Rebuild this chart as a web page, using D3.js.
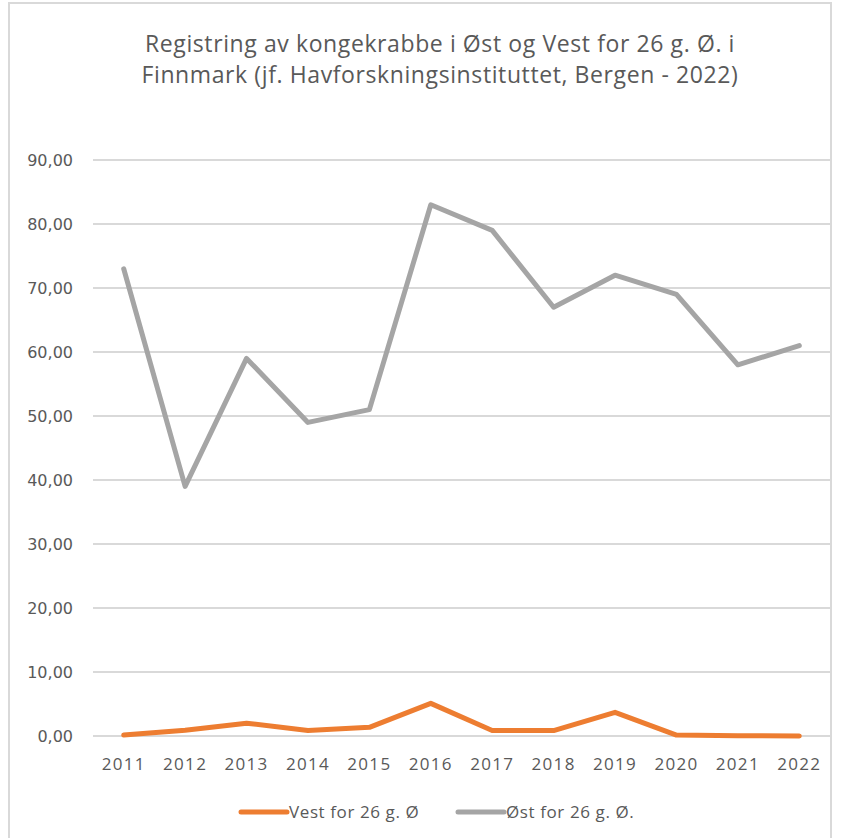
<!DOCTYPE html>
<html>
<head>
<meta charset="utf-8">
<script src="https://cdn.jsdelivr.net/npm/d3@7"></script>
<style>
  body { margin: 0; background: #fff; }
  text { font-family: "Open Sans", sans-serif; fill: #595959; }
</style>
</head>
<body>
<script>
// chart data
var years = ['2011','2012','2013','2014','2015','2016','2017','2018','2019','2020','2021','2022'];
var vest = [0.15, 0.9, 2.0, 0.85, 1.35, 5.1, 0.85, 0.85, 3.7, 0.15, 0.05, 0.0];
var ost = [73, 39, 59, 49, 51, 83, 79, 67, 72, 69, 58, 61];
var yTicks = [0, 10, 20, 30, 40, 50, 60, 70, 80, 90];
var seriesNames = ['Vest for 26 g. Ø', 'Øst for 26 g. Ø.'];
var titleLines = ['Registring av kongekrabbe  i Øst og Vest for 26 g. Ø. i',
                  'Finnmark (jf. Havforskningsinstituttet, Bergen - 2022)'];

var W = 842, H = 838;
var svg = d3.select('body').append('svg').attr('width', W).attr('height', H);

// chart frame
svg.append('rect')
  .attr('x', 9).attr('y', 3)
  .attr('width', 822).attr('height', 850)
  .attr('fill', '#fff').attr('stroke', '#d9d9d9').attr('stroke-width', 2);

var mLeft = 93, mRight = 830, mTop = 160, mBottom = 736;

var x = d3.scaleBand().domain(years).range([mLeft, mRight]);
var y = d3.scaleLinear().domain([0, 90]).range([mBottom, mTop]);

// title
svg.append('g').selectAll('text').data(titleLines).enter()
  .append('text')
  .attr('x', 440)
  .attr('y', function(d, i) { return 44 + i * 31; })
  .attr('dy', '0.35em')
  .attr('text-anchor', 'middle')
  .style('font-size', '23px')
  .style('letter-spacing', '0.6px')
  .text(function(d) { return d; });

// gridlines
svg.append('g').selectAll('line').data(yTicks).enter()
  .append('line')
  .attr('x1', mLeft).attr('x2', mRight)
  .attr('y1', function(d) { return Math.round(y(d)); })
  .attr('y2', function(d) { return Math.round(y(d)); })
  .attr('stroke', '#d9d9d9').attr('stroke-width', 2);

// y axis labels
var fmt = function(d) { return d3.format('.2f')(d).replace('.', ','); };
var yAxis = d3.axisLeft(y).tickValues(yTicks).tickFormat(fmt).tickSize(0).tickPadding(0);
var gy = svg.append('g').attr('transform', 'translate(73,0)').call(yAxis);
gy.select('.domain').remove();
gy.selectAll('text').style('font-size', '16px').style('font-family', '"DejaVu Sans", sans-serif')
  .style('fill', '#595959').attr('dy', '0.35em');

// x axis labels
var xAxis = d3.axisBottom(x).tickSize(0).tickPadding(0);
var gx = svg.append('g').attr('transform', 'translate(0,' + (mBottom + 28) + ')').call(xAxis);
gx.select('.domain').remove();
gx.selectAll('text').style('font-size', '17px').style('font-family', '"Open Sans", sans-serif')
  .style('letter-spacing', '1.3px')
  .style('fill', '#595959').attr('dy', '0.35em');

var line = d3.line()
  .x(function(d, i) { return x(years[i]) + x.bandwidth() / 2; })
  .y(function(d) { return y(d); });

var colors = ['#ed7d31', '#a5a5a5'];
[vest, ost].forEach(function(s, k) {
  svg.append('path')
    .datum(s)
    .attr('d', line)
    .attr('fill', 'none')
    .attr('stroke', colors[k])
    .attr('stroke-width', 5)
    .attr('stroke-linejoin', 'round')
    .attr('stroke-linecap', 'round');
});

// legend
var legendX = [241, 458];
var lg = svg.append('g').selectAll('g').data(seriesNames).enter()
  .append('g')
  .attr('transform', function(d, i) { return 'translate(' + legendX[i] + ',812)'; });
lg.append('line')
  .attr('x1', 0).attr('x2', 46).attr('y1', 0).attr('y2', 0)
  .attr('stroke', function(d, i) { return colors[i]; })
  .attr('stroke-width', 5).attr('stroke-linecap', 'round');
lg.append('text')
  .attr('x', 48).attr('dy', '0.35em')
  .style('font-size', '17px')
  .style('letter-spacing', '0.6px')
  .text(function(d) { return d; });
</script>
</body>
</html>
